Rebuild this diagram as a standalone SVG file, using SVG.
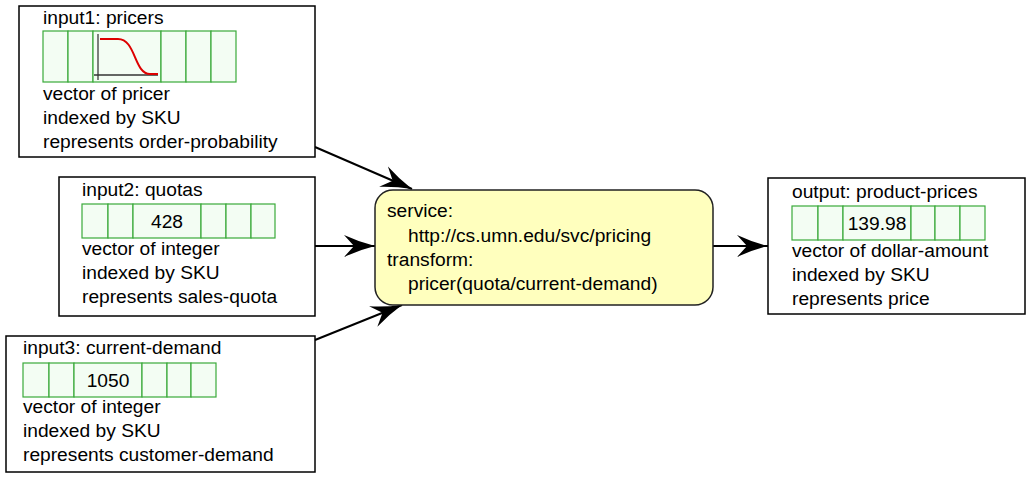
<svg xmlns="http://www.w3.org/2000/svg" width="1029" height="478" viewBox="0 0 1029 478">
<style>
text{font-family:"Liberation Sans",Arial,sans-serif;font-size:19.2px;fill:#000}
.box{fill:#fff;stroke:#000;stroke-width:1.5}
.cell{fill:#f3fdf3;stroke:#3aaa3a;stroke-width:1.2}
.svc{fill:#ffffbe;stroke:#222;stroke-width:1.5}
.conn{stroke:#000;stroke-width:2;fill:none;marker-end:url(#ah)}
.ctr{text-anchor:middle}
</style>
<defs>
<marker id="ah" markerUnits="userSpaceOnUse" markerWidth="34" markerHeight="26" viewBox="-32 -13 34 26" refX="0" refY="0" orient="auto">
<path d="M0,0 Q-16,-4 -31,-11 L-21,0 L-31,11 Q-16,4 0,0 Z" fill="#000"/>
</marker>
</defs>
<g id="connectors">
<line class="conn" x1="315" y1="147" x2="412" y2="189"/>
<line class="conn" x1="315" y1="246" x2="375" y2="246"/>
<line class="conn" x1="315" y1="340" x2="402" y2="305"/>
<line class="conn" x1="713" y1="246" x2="768" y2="246"/>
</g>
<g id="input1">
<rect class="box" x="19" y="6" width="296" height="151"/>
<text x="43" y="24">input1: pricers</text>
<rect class="cell" x="43" y="31" width="25" height="51"/>
<rect class="cell" x="68" y="31" width="25" height="51"/>
<rect class="cell" x="93" y="31" width="68" height="51"/>
<rect class="cell" x="161" y="31" width="25" height="51"/>
<rect class="cell" x="186" y="31" width="25" height="51"/>
<rect class="cell" x="211" y="31" width="25" height="51"/>
<line x1="98" y1="34" x2="98" y2="80" stroke="#555" stroke-width="1.5"/>
<line x1="94" y1="75" x2="158" y2="75" stroke="#333" stroke-width="1.5"/>
<path d="M100,39 L118,39 C136,39 134,74 150,74 L158,74" fill="none" stroke="#dd0000" stroke-width="2"/>
<text x="43" y="100">vector of pricer</text>
<text x="43" y="124">indexed by SKU</text>
<text x="43" y="148">represents order-probability</text>
</g>
<g id="input2">
<rect class="box" x="59" y="177" width="256" height="139"/>
<text x="82" y="196">input2: quotas</text>
<rect class="cell" x="82" y="204" width="26" height="34"/>
<rect class="cell" x="108" y="204" width="25" height="34"/>
<rect class="cell" x="133" y="204" width="68" height="34"/>
<rect class="cell" x="201" y="204" width="25" height="34"/>
<rect class="cell" x="226" y="204" width="25" height="34"/>
<rect class="cell" x="251" y="204" width="24" height="34"/>
<text class="ctr" x="167" y="228">428</text>
<text x="82" y="255">vector of integer</text>
<text x="82" y="279">indexed by SKU</text>
<text x="82" y="303">represents sales-quota</text>
</g>
<g id="input3">
<rect class="box" x="6" y="336" width="309" height="136"/>
<text x="23" y="354">input3: current-demand</text>
<rect class="cell" x="23" y="363" width="26" height="34"/>
<rect class="cell" x="49" y="363" width="25" height="34"/>
<rect class="cell" x="74" y="363" width="68" height="34"/>
<rect class="cell" x="142" y="363" width="25" height="34"/>
<rect class="cell" x="167" y="363" width="24" height="34"/>
<rect class="cell" x="191" y="363" width="25" height="34"/>
<text class="ctr" x="108" y="387">1050</text>
<text x="23" y="413">vector of integer</text>
<text x="23" y="437">indexed by SKU</text>
<text x="23" y="461">represents customer-demand</text>
</g>
<g id="service">
<rect class="svc" x="375" y="190" width="338" height="115" rx="18" ry="18"/>
<text x="387" y="217">service:</text>
<text x="408" y="242">http://cs.umn.edu/svc/pricing</text>
<text x="387" y="266">transform:</text>
<text x="408" y="290">pricer(quota/current-demand)</text>
</g>
<g id="output">
<rect class="box" x="768" y="178" width="257" height="136"/>
<text x="792" y="198">output: product-prices</text>
<rect class="cell" x="792" y="206" width="26" height="34"/>
<rect class="cell" x="818" y="206" width="25" height="34"/>
<rect class="cell" x="843" y="206" width="68" height="34"/>
<rect class="cell" x="911" y="206" width="24" height="34"/>
<rect class="cell" x="935" y="206" width="25" height="34"/>
<rect class="cell" x="960" y="206" width="25" height="34"/>
<text class="ctr" x="877" y="230">139.98</text>
<text x="792" y="257">vector of dollar-amount</text>
<text x="792" y="281">indexed by SKU</text>
<text x="792" y="305">represents price</text>
</g>
</svg>
